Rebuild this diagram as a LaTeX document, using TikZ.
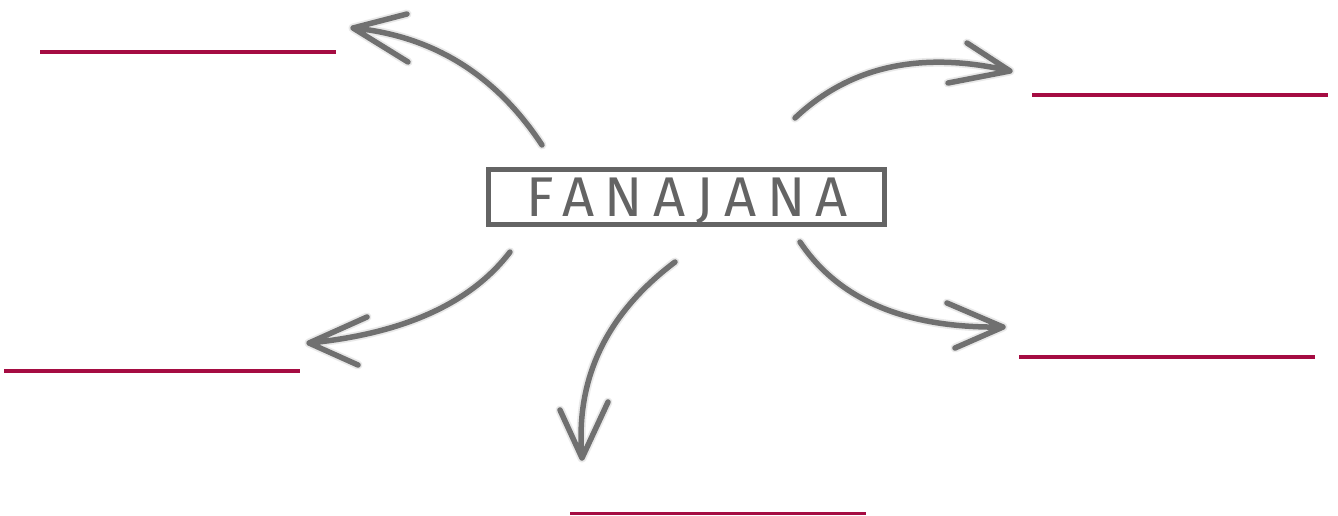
\documentclass[tikz,border=0pt]{standalone}
\usepackage{fontspec}
\usetikzlibrary{calc}
\newfontfamily\boxfont[LetterSpace=19]{Fira Sans}
\definecolor{crim}{RGB}{165,12,66}
\definecolor{brush}{RGB}{112,112,112}
\definecolor{boxgray}{RGB}{100,100,100}
\begin{document}
\begin{tikzpicture}[x=1pt,y=-1pt,
  blank/.style={crim,line width=4pt},
  brushsoft/.style={brush,opacity=0.15,line width=9pt,line cap=round,line join=round},
  brushcore/.style={brush,line width=5.5pt,line cap=round,line join=round},
  titlebox/.style={draw=boxgray,line width=5pt,minimum width=396pt,minimum height=55pt,inner sep=0pt,
    text height=39pt,text depth=0pt,text=boxgray,font=\boxfont\fontsize{56}{56}\selectfont}]
\useasboundingbox (0,0) rectangle (1338,515);
\fill[white] (0,0) rectangle (1338,515);
\node[titlebox] (title) at (686.5,197) {\hspace*{2pt}FANAJANA};
% answer lines
\coordinate (l1a) at (40,52);   \coordinate (l1b) at (336,52);
\coordinate (l2a) at (1032,95); \coordinate (l2b) at (1328,95);
\coordinate (l3a) at (4,371);   \coordinate (l3b) at (300,371);
\coordinate (l4a) at (1019,357);\coordinate (l4b) at (1315,357);
\coordinate (l5a) at (570,513.5);\coordinate (l5b) at (866,513.5);
\foreach \a/\b in {l1a/l1b,l2a/l2b,l3a/l3b,l4a/l4b} \draw[blank] (\a) -- (\b);
\draw[crim,line width=2.5pt] (l5a) -- (l5b);
% arrows (quadratic control points)
\coordinate (tlS) at (542,145); \coordinate (tlC) at (472.5,39.5); \coordinate (tlT) at (353,28);
\coordinate (tlA) at (407,14);  \coordinate (tlB) at (408,62);
\coordinate (trS) at (795,118); \coordinate (trC) at (877.5,40); \coordinate (trT) at (1010,71);
\coordinate (trA) at (967,43);  \coordinate (trB) at (948,83);
\coordinate (lS) at (510,252);  \coordinate (lC) at (451,329); \coordinate (lT) at (309,343);
\coordinate (lA) at (367,317);  \coordinate (lB) at (358,365);
\coordinate (bS) at (675,262);  \coordinate (bC) at (571.5,340); \coordinate (bT) at (582,458);
\coordinate (bA) at (560,410);  \coordinate (bB) at (608,402);
\coordinate (rS) at (800,242);  \coordinate (rC) at (858.5,329.5); \coordinate (rT) at (1003,327);
\coordinate (rA) at (947,303);  \coordinate (rB) at (955,348);
\foreach \p in {tl,tr,l,b,r}{
  \draw[brushsoft] (\p S) .. controls ($(\p S)!2/3!(\p C)$) and ($(\p T)!2/3!(\p C)$) .. (\p T) (\p A) -- (\p T) -- (\p B);
  \draw[brushcore] (\p S) .. controls ($(\p S)!2/3!(\p C)$) and ($(\p T)!2/3!(\p C)$) .. (\p T) (\p A) -- (\p T) -- (\p B);
}
\end{tikzpicture}
\end{document}
